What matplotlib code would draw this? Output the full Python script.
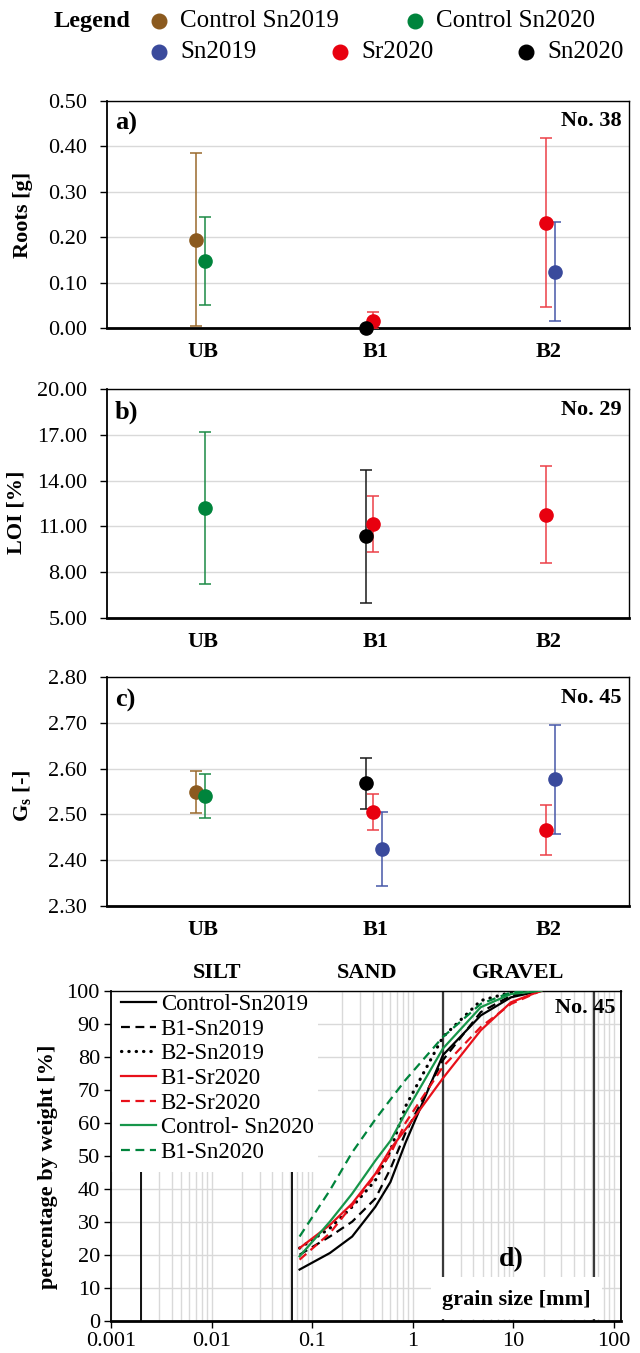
import matplotlib
matplotlib.use('Agg')
import matplotlib.pyplot as plt
from matplotlib.patches import Rectangle
from matplotlib.ticker import FuncFormatter, LogLocator, NullFormatter
import numpy as np

plt.rcParams['font.family'] = ['Liberation Serif', 'DejaVu Serif']
plt.rcParams['mathtext.fontset'] = 'custom'
plt.rcParams['mathtext.rm'] = 'Liberation Serif'
plt.rcParams['mathtext.bf'] = 'Liberation Serif:bold'

W, H = 640, 1353
nan = np.nan

# --- data: panels a-c, mean and standard deviation per series and location ---
categories = ['UB', 'B1', 'B2']
series_names = ['Control Sn2019', 'Control Sn2020', 'Sn2019', 'Sr2020', 'Sn2020']

roots_mean = [[0.195, nan, nan], [0.148, nan, nan], [nan, nan, 0.124],
              [nan, 0.017, 0.232], [nan, 0.0, nan]]
roots_sd = [[0.191, nan, nan], [0.097, nan, nan], [nan, nan, 0.109],
            [nan, 0.019, 0.186], [nan, 0.0, nan]]

loi_mean = [[nan, nan, nan], [12.2, nan, nan], [nan, nan, nan],
            [nan, 11.15, 11.76], [nan, 10.35, nan]]
loi_sd = [[nan, nan, nan], [4.97, nan, nan], [nan, nan, nan],
          [nan, 1.86, 3.2], [nan, 4.36, nan]]

gs_mean = [[2.548, nan, nan], [2.540, nan, nan], [nan, 2.424, 2.577],
           [nan, 2.505, 2.466], [nan, 2.568, nan]]
gs_sd = [[0.046, nan, nan], [0.048, nan, nan], [nan, 0.081, 0.119],
         [nan, 0.040, 0.055], [nan, 0.056, nan]]

# --- data: panel d, grain size distribution (% passing) ---
sieve_mm = [0.075, 0.15, 0.25, 0.425, 0.6, 0.85, 2.0, 4.75, 9.5, 19.0]
ctrl_sn2019 = [15.5, 20.5, 25.5, 34.5, 42.0, 54.0, 80.5, 92.5, 98.0, 100]
b1_sn2019 = [20.0, 25.5, 30.0, 37.0, 46.0, 57.0, 79.0, 93.5, 98.5, 100]
b2_sn2019 = [22.0, 28.0, 34.5, 42.5, 51.5, 65.0, 86.0, 97.0, 99.5, 100]
b1_sr2020 = [22.0, 29.0, 35.5, 44.5, 52.0, 58.0, 73.5, 88.0, 96.5, 100]
b2_sr2020 = [18.5, 26.5, 35.0, 44.0, 50.5, 60.0, 77.0, 89.0, 96.0, 100]
ctrl_sn2020 = [19.5, 30.0, 38.5, 48.5, 54.5, 63.0, 82.5, 95.0, 99.0, 100]
b1_sn2020 = [25.5, 39.5, 51.0, 61.0, 67.0, 73.0, 86.0, 96.0, 99.5, 100]

soil_bounds = [0.002, 0.063, 2.0, 63.0]
soil_names = ['SILT', 'SAND', 'GRAVEL']

SERIES_STYLE = {
    'Control Sn2019': {'color': '#8b5a1f', 'bar': '#9a6a2c', 'offset': -0.04},
    'Control Sn2020': {'color': '#00843c', 'bar': '#1b8a45', 'offset': 0.01},
    'Sn2019': {'color': '#3a4a9c', 'bar': '#4757a8', 'offset': 0.035},
    'Sr2020': {'color': '#e8000f', 'bar': '#ec4048', 'offset': -0.015},
    'Sn2020': {'color': '#000000', 'bar': '#1a1a1a', 'offset': -0.06},
}

GRID = '#d9d9d9'


def px_rect(left, top, right, bottom):
    return [left / W, 1 - bottom / H, (right - left) / W, (bottom - top) / H]


def draw_panel(ax, means, sds, ylim, yticks, ylabel, tag, number, label_x=-0.141,
               label_y=0.5):
    for name, row_m, row_s in zip(series_names, means, sds):
        st = SERIES_STYLE[name]
        for j, (m, s) in enumerate(zip(row_m, row_s)):
            if np.isnan(m):
                continue
            x = j + 1 + st['offset']
            if s > 0:
                ax.errorbar(x, m, yerr=s, fmt='none', ecolor=st['bar'],
                            elinewidth=1.1, capsize=4.5, capthick=1.1, zorder=3)
            ax.plot(x, m, 'o', ms=9.5, color=st['color'], zorder=4, clip_on=False)

    ax.set_xlim(0.443, 3.464)
    ax.set_ylim(*ylim)
    ax.set_yticks(yticks)
    ax.yaxis.set_major_formatter(FuncFormatter(lambda v, _: f'{v:.2f}'))
    ax.set_xticks([1, 2, 3])
    ax.set_xticklabels(categories, fontweight='bold')
    ax.tick_params(axis='y', direction='out', length=5, width=1, pad=9, labelsize=16)
    ax.tick_params(axis='x', length=0, pad=10, labelsize=16)
    ax.yaxis.grid(True, color=GRID, lw=1.0)
    ax.set_axisbelow(True)
    for side, lw in [('left', 1.3), ('top', 1.0), ('right', 1.0), ('bottom', 2.0)]:
        ax.spines[side].set_linewidth(lw)
        ax.spines[side].set_color('black')
    ax.set_ylabel(ylabel, fontweight='bold', fontsize=16)
    ax.yaxis.set_label_coords(label_x, label_y)
    ax.text(0.016, 0.9, tag, transform=ax.transAxes, fontsize=19,
            fontweight='bold', va='center', ha='left')
    ax.text(0.985, 0.91, number, transform=ax.transAxes, fontsize=16,
            fontweight='bold', va='center', ha='right')


fig = plt.figure(figsize=(W / 100, H / 100), dpi=100)

# --- top legend, drawn in pixel coordinates ---
leg = fig.add_axes([0, 0, 1, 1])
leg.set_xlim(0, W)
leg.set_ylim(H, 0)
leg.axis('off')
leg.text(54, 21, 'Legend', fontsize=17.5, fontweight='bold', va='center', ha='left')
legend_spots = [('Control Sn2019', 159, 21), ('Control Sn2020', 415, 21),
                ('Sn2019', 159, 52), ('Sr2020', 340, 52), ('Sn2020', 526, 52)]
for name, lx, ly in legend_spots:
    leg.plot(lx, ly, 'o', ms=10.5, color=SERIES_STYLE[name]['color'])
    leg.text(lx + 21, ly, name, fontsize=18, va='center', ha='left')

ax_a = fig.add_axes(px_rect(106.7, 100.7, 629.3, 328.3))
draw_panel(ax_a, roots_mean, roots_sd, (0, 0.5), np.arange(0, 0.51, 0.1),
           'Roots [g]', 'a)', 'No. 38')

ax_b = fig.add_axes(px_rect(106.7, 389.3, 629.3, 617.7))
draw_panel(ax_b, loi_mean, loi_sd, (5, 20), [5, 8, 11, 14, 17, 20],
           'LOI [%]', 'b)', 'No. 29', label_x=-0.154, label_y=0.46)

ax_c = fig.add_axes(px_rect(106.7, 677.3, 629.3, 905.7))
draw_panel(ax_c, gs_mean, gs_sd, (2.3, 2.8), np.arange(2.3, 2.81, 0.1),
           r'$\mathbf{G_s}$ [-]', 'c)', 'No. 45', label_y=0.48)

# --- panel d: grain size distribution ---
axd = fig.add_axes(px_rect(111, 990.7, 620.7, 1320.7))
axd.set_xscale('log')
axd.set_xlim(0.001, 117)
axd.set_ylim(0, 100)
axd.set_yticks(range(0, 101, 10))
axd.xaxis.set_major_locator(LogLocator(base=10, numticks=12))
axd.xaxis.set_minor_locator(LogLocator(base=10, subs=np.arange(2, 10), numticks=100))
axd.xaxis.set_major_formatter(FuncFormatter(lambda v, _: f'{v:g}'))
axd.xaxis.set_minor_formatter(NullFormatter())
axd.grid(True, which='both', axis='x', color=GRID, lw=1.0)
axd.grid(True, which='major', axis='y', color=GRID, lw=1.0)
axd.set_axisbelow(True)
axd.tick_params(which='minor', length=0)
axd.tick_params(which='major', direction='out', length=5, width=1, labelsize=16, pad=3)
for side, lw in [('left', 1.3), ('top', 1.0), ('right', 1.3), ('bottom', 2.0)]:
    axd.spines[side].set_linewidth(lw)
    axd.spines[side].set_color('black')

for b in soil_bounds[:2]:
    axd.axvline(b, color='black', lw=1.3, zorder=2)
for b in soil_bounds[2:]:
    axd.axvline(b, color='#3a3a3a', lw=1.6, zorder=2)

for lo, hi, name in zip(soil_bounds[:-1], soil_bounds[1:], soil_names):
    axd.text(np.sqrt(lo * hi), 105.4, name, fontsize=16, fontweight='bold',
             ha='center', va='center', clip_on=False)

# white areas behind the legend and the axis title
axd.add_patch(Rectangle((0.001, 45), 0.115 - 0.001, 55, facecolor='white',
                        edgecolor='none', zorder=2.2))
axd.add_patch(Rectangle((1.53, 0.5), 76 - 1.53, 12.7, facecolor='white',
                        edgecolor='none', zorder=2.2))

curves = [
    ('Control-Sn2019', ctrl_sn2019, dict(color='black', ls='-', lw=1.6)),
    ('B1-Sn2019', b1_sn2019, dict(color='black', ls=(0, (4, 2.5)), lw=1.6)),
    ('B2-Sn2019', b2_sn2019, dict(color='black', ls=(0, (0.1, 2.2)), lw=2.3,
                                  dash_capstyle='round')),
    ('B1-Sr2020', b1_sr2020, dict(color='#e8101a', ls='-', lw=1.6)),
    ('B2-Sr2020', b2_sr2020, dict(color='#e8101a', ls=(0, (4, 2.5)), lw=1.6)),
    ('Control- Sn2020', ctrl_sn2020, dict(color='#17964a', ls='-', lw=1.6)),
    ('B1-Sn2020', b1_sn2020, dict(color='#00843c', ls=(0, (4, 2.5)), lw=1.6)),
]
for label, vals, style in curves:
    axd.plot(sieve_mm, vals, label=label, zorder=3, **style)

axd.legend(loc='upper left', bbox_to_anchor=(0.012, 1.0), frameon=False,
           fontsize=16.5, handlelength=1.55, handletextpad=0.2, labelspacing=0.155,
           borderaxespad=0, borderpad=0.15)

axd.set_ylabel('percentage by weight [%]', fontweight='bold', fontsize=16)
axd.yaxis.set_label_coords(-0.104, 0.466)
axd.text(0.989, 0.948, 'No. 45', transform=axd.transAxes, ha='right', va='center',
         fontsize=16, fontweight='bold')
axd.text(9.5, 18.4, 'd)', fontsize=20, fontweight='bold', ha='center', va='center')
axd.text(10.7, 6.3, 'grain size [mm]', fontsize=16, fontweight='bold',
         ha='center', va='center', zorder=4)

fig.savefig('out.png', dpi=100)
